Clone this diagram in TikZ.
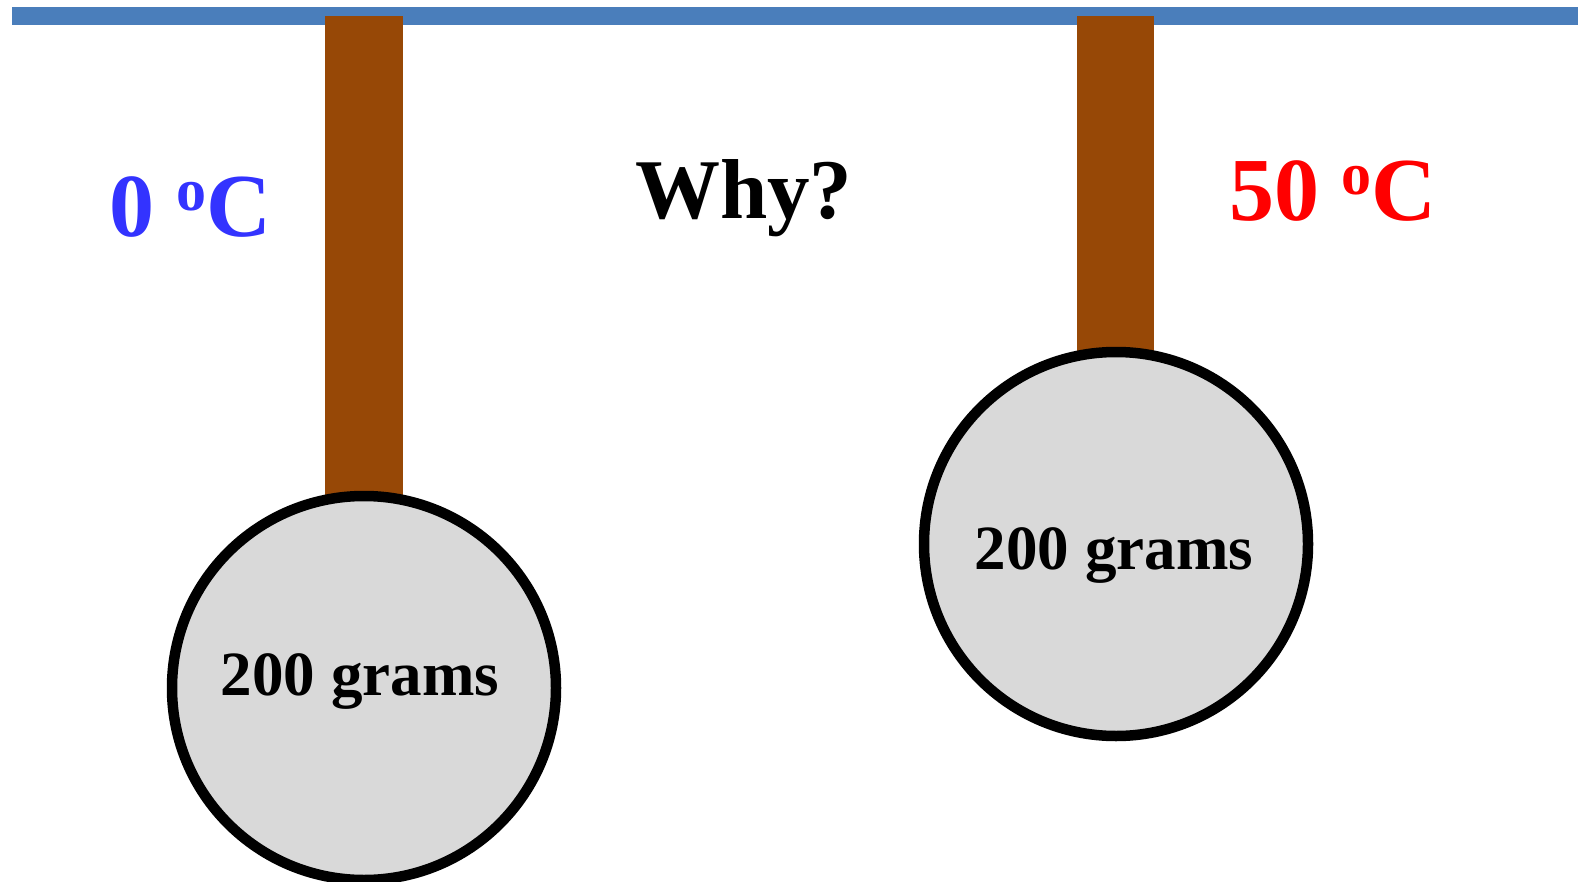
\documentclass[tikz,border=0pt]{standalone}
\usepackage{fontspec}
\setmainfont{Liberation Serif}
\definecolor{barblue}{HTML}{4A7EBB}
\definecolor{rodbrown}{HTML}{974806}
\definecolor{massgray}{HTML}{D9D9D9}
\definecolor{tempblue}{HTML}{3333FF}
\definecolor{tempred}{HTML}{FF0000}
\newcommand{\degsym}{\raisebox{0.29em}{\fontsize{60}{60}\selectfont o}}
\tikzset{
  rodbar/.style={fill=rodbrown},
  massball/.style={circle, draw=black, fill=massgray, line width=10.5pt, minimum size=384pt, inner sep=0pt},
  masslabel/.style={font=\fontsize{63}{63}\selectfont\bfseries, anchor=base, inner sep=0pt},
  templabel/.style={font=\fontsize{90}{90}\selectfont\bfseries, anchor=base west, inner sep=0pt}
}
\begin{document}
\begin{tikzpicture}[x=1pt,y=-1pt]
\useasboundingbox (0,0) rectangle (1578,882);
\fill[white] (0,0) rectangle (1578,882);
% ceiling bar
\fill[barblue] (12,7) rectangle (1578,25);
% rods
\fill[rodbar] (325,16) rectangle (403,688);
\fill[rodbar] (1077,16) rectangle (1154,544);
% masses
\node[massball] (massL) at (364,688) {};
\node[massball] (massR) at (1116,544) {};
\node[masslabel] (labL) at (360,695) {200 grams};
\node[masslabel] (labR) at (1114,569) {200 grams};
% temperatures
\node[templabel, text=tempblue] (tL) at (109,237) {0 \degsym C};
\node[templabel, text=tempred] (tR) at (1229,221) {50 \degsym C};
\node[font=\fontsize{85}{85}\selectfont\bfseries, anchor=base west, inner sep=0pt] (why) at (635,219) {Why?};
\end{tikzpicture}
\end{document}
